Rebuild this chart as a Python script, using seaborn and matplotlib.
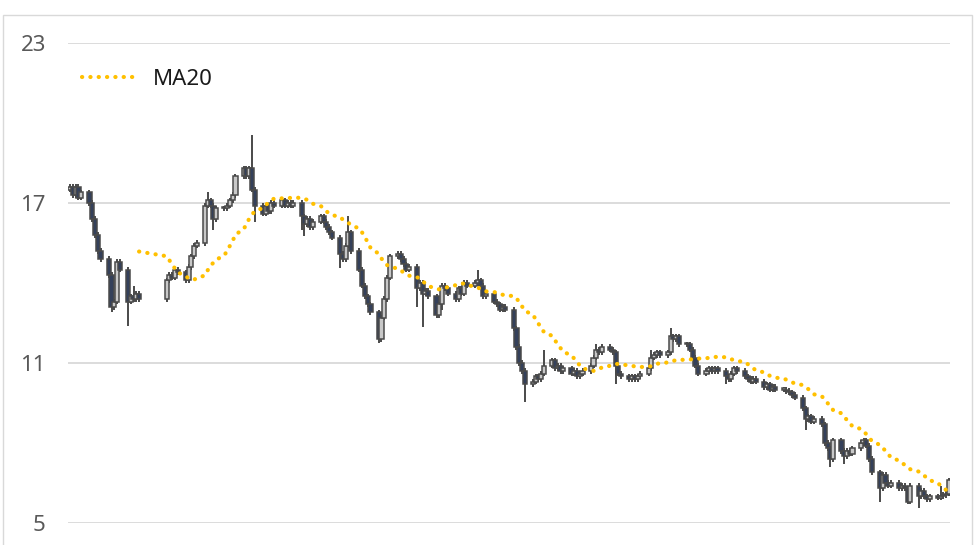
import numpy as np
import pandas as pd
import matplotlib
matplotlib.use("Agg")
import matplotlib.pyplot as plt
import seaborn as sns
from matplotlib.patches import Rectangle

# ---- data (one row per trading week) ----
first_open = 17.5
close = [
    17.6, 17.3, 17.6, 17.2, 17.4,
    17.0, 16.4, 15.8, 15.2, 14.9,
    14.3, 13.1, 13.3, 14.8, 14.5,
    13.3, 13.5, 13.4, 13.6, 13.4,
    # holiday week: no trading
    14.1, 14.3, 14.2, 14.5, 14.4,
    14.1, 14.6, 15.0, 15.4, 15.5,
    16.9, 17.1, 16.9, 16.4, 16.8,
    16.8, 16.9, 17.1, 17.3, 18.0,
    18.3, 18.0, 18.3, 17.5, 16.9,
    16.6, 16.9, 16.7, 17.0, 16.9,
    17.1, 16.9, 17.0, 16.9, 17.0,
    16.5, 16.2, 16.4, 16.1, 16.3,
    16.5, 16.3, 16.1, 15.9, 15.7,
    15.1, 14.9, 15.4, 15.9, 15.2,
    14.5, 13.9, 13.5, 13.2, 12.9,
    11.9, 12.7, 13.4, 14.2, 15.0,
    15.1, 14.9, 14.7, 14.5, 14.6,
    13.8, 14.0, 13.6, 13.7, 13.5,
    12.8, 13.2, 13.9, 13.8, 13.6,
    13.4, 13.8, 13.6, 14.0, 13.9,
    14.0, 14.1, 13.9, 13.5, 13.6,
    13.3, 13.2, 13.0, 13.1, 13.0,
    12.3, 11.6, 11.0, 10.7, 10.2,
    10.3, 10.5, 10.4, 10.6, 10.9,
    11.1, 10.8, 10.9, 10.7, 10.8,
    10.6, 10.7, 10.5, 10.6, 10.7,
    10.9, 11.2, 11.5, 11.4, 11.6,
    11.5, 11.4, 10.9, 10.6, 10.5,
    10.4, 10.5, 10.4, 10.5, 10.6,
    10.8, 11.2, 11.3, 11.4, 11.3,
    11.4, 12.0, 11.9, 12.0, 11.7,
    11.7, 11.5, 11.2, 10.9, 10.6,
    10.7, 10.8, 10.7, 10.8, 10.7,
    10.5, 10.4, 10.6, 10.8, 10.7,
    10.5, 10.4, 10.3, 10.4, 10.3,
    10.1, 10.2, 10.0, 10.1, 10.0,
    10.0, 9.95, 9.9, 9.8, 9.7,
    9.3, 8.9, 9.0, 8.8, 8.9,
    8.7, 8.0, 7.8, 7.4, 8.1,
    7.7, 7.5, 7.7, 7.6, 7.8,
    8.0, 8.1, 7.9, 7.4, 6.9,
    6.3, 6.8, 6.5, 6.4, 6.5,
    6.3, 6.4, 6.3, 5.8, 6.4,
    6.0, 6.2, 6.0, 5.9, 6.0,
    5.95, 6.0, 6.05, 6.1, 6.6,
]

# notable wick extremes (trading-day index -> price)
spike_high = {17: 13.9, 31: 17.4, 43: 19.55, 68: 16.5, 101: 14.5, 119: 11.5,
              132: 11.7, 146: 11.5, 151: 12.3, 221: 6.4}
spike_low = {11: 12.9, 15: 12.4, 33: 16.0, 44: 16.3, 55: 16.0, 56: 15.75,
             65: 14.55, 75: 11.75, 85: 13.1, 87: 12.35, 92: 13.0, 114: 9.55,
             137: 10.2, 165: 10.2, 186: 8.5, 193: 7.1, 196: 7.2, 205: 5.8,
             213: 5.7, 215: 5.55}
wick = 0.1

start, end = "2024-01-08", "2024-11-22"
holiday = pd.bdate_range("2024-02-05", "2024-02-09")

y_ticks = [5, 11, 17, 23]

# ---- build OHLC ----
dates = pd.bdate_range(start, end).difference(holiday)
assert len(dates) == len(close), (len(dates), len(close))
x = np.array((dates - dates[0]).days, dtype=float)

c = np.array(close)
o = np.r_[first_open, c[:-1]]
hi = np.maximum(o, c) + wick
lo = np.minimum(o, c) - wick
for i, v in spike_high.items():
    hi[i] = v
for i, v in spike_low.items():
    lo[i] = v
ma20 = pd.Series(c).rolling(20).mean()

# ---- figure ----
sns.set_style("white")
plt.rcParams["font.family"] = ["Noto Sans", "DejaVu Sans"]

fig = plt.figure(figsize=(9.75, 5.45), dpi=100)
ax = fig.add_axes([68 / 975, 1 - 523 / 545, (950 - 68) / 975, 480 / 545])

# chart border
fig.patches.append(Rectangle((3 / 975, -0.02), 969 / 975, 1.02 - 15 / 545,
                             transform=fig.transFigure, fill=False,
                             edgecolor="#D9D9D9", linewidth=1.0))

for t in y_ticks:
    ax.axhline(t, color="#D9D9D9", linewidth=1.3, zorder=0)

edge = "#4A4A4A"
ax.vlines(x, lo, hi, color=edge, linewidth=1.4, zorder=2)
up = c >= o
body_h = np.maximum(np.abs(c - o), 0.05)
ax.bar(x, body_h, bottom=np.minimum(o, c), width=1.5,
       color=np.where(up, "#C8C8C8", "#34405A"),
       edgecolor=edge, linewidth=1.1, zorder=3)

sns.lineplot(x=x, y=ma20, ax=ax, color="#FFC000", linewidth=3.0,
             linestyle=(0, (0.05, 1.95)), dash_capstyle="round",
             zorder=4, legend=False)

ax.set_xlim(x[0] - 0.8, x[-1] + 0.4)
ax.set_ylim(5, 23)
ax.set_yticks(y_ticks)
ax.set_xticks([])
ax.tick_params(axis="y", length=0, pad=16, labelsize=16, labelcolor="#595959")
ax.set_xlabel("")
ax.set_ylabel("")
for s in ax.spines.values():
    s.set_visible(False)

leg = ax.legend(handles=[ax.lines[-1]], labels=["MA20"], loc="center left",
                bbox_to_anchor=(82 / 975, 1 - 79 / 545),
                bbox_transform=fig.transFigure, frameon=False, fontsize=16,
                handlelength=2.5, handletextpad=0.7, borderpad=0,
                borderaxespad=0)
for t in leg.get_texts():
    t.set_color("#1A1A1A")

fig.savefig("out.png", dpi=100)
